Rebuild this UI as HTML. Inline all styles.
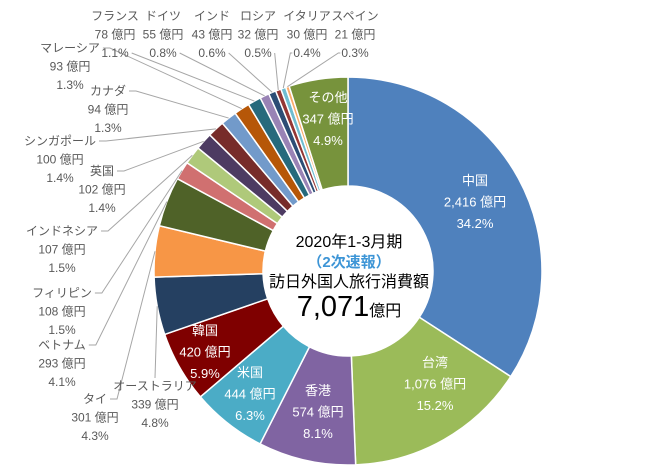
<!DOCTYPE html>
<html><head><meta charset="utf-8">
<style>
html,body{margin:0;padding:0;background:#fff;}
svg{display:block;font-family:"Liberation Sans","Noto Sans CJK JP",sans-serif;}
</style></head>
<body>
<svg id="chart" width="650" height="471" viewBox="0 0 650 471" xmlns="http://www.w3.org/2000/svg">
<g id="slices"></g>
<g id="leaders"></g>
<g id="labels"></g>
<g text-anchor="middle" fill="#000">
<text x="349" y="247" font-size="16">2020年1-3月期</text>
<text x="349" y="267" font-size="15" font-weight="bold" fill="#3d95d6">（2次速報）</text>
<text x="349" y="287" font-size="16">訪日外国人旅行消費額</text>
<text x="349" y="316"><tspan font-size="29">7,071</tspan><tspan font-size="16">億円</tspan></text>
</g>
</svg>
<script>
const categories=["中国","台湾","香港","米国","韓国","オーストラリア","タイ","ベトナム","フィリピン","インドネシア","英国","シンガポール","カナダ","マレーシア","フランス","ドイツ","インド","ロシア","イタリア","スペイン","その他"];
const values=[2416,1076,574,444,420,339,301,293,108,107,102,100,94,93,78,55,43,32,30,21,347];
const percents=["34.2%","15.2%","8.1%","6.3%","5.9%","4.8%","4.3%","4.1%","1.5%","1.5%","1.4%","1.4%","1.3%","1.3%","1.1%","0.8%","0.6%","0.5%","0.4%","0.3%","4.9%"];
const colors=["#4f81bd","#9bbb59","#8064a2","#4bacc6","#7f0000","#254061","#f79646","#4f6228","#d07070","#afc97a","#4d3b62","#772c2a","#729aca","#b65708","#276a7c","#9983b5","#2c4d75","#943634","#6fbdd1","#f9ab6b","#77933c"];
// label placement: [x, firstLineY, inside]
const labelPos=[[475,185,1],[435,367,1],[318,395,1],[250,377,1],[205,335,1],[155,390,0],[95,403,0],[62,349,0],[62,297,0],[62,235,0],[102,175,0],[60,145,0],[108,95,0],[70,52,0],[115,20,0],[163,20,0],[212,20,0],[258,20,0],[307,20,0],[355,20,0],[328,102,1]];
const cx=348,cy=271,R=194,r=85;
const NS="http://www.w3.org/2000/svg";
const total=values.reduce((a,b)=>a+b,0);
function ang(v){return v/total*Math.PI*2;}
function pt(a,rad){return [cx+rad*Math.sin(a),cy-rad*Math.cos(a)];}
const gS=document.getElementById('slices'),gL=document.getElementById('leaders'),gT=document.getElementById('labels');
let a0=0;
values.forEach((v,i)=>{
  const a1=a0+ang(v);
  const p1=pt(a0,R),p2=pt(a1,R),p3=pt(a1,r),p4=pt(a0,r);
  const lg=(a1-a0)>Math.PI?1:0;
  const p=document.createElementNS(NS,'path');
  p.setAttribute('d',`M${p1} A${R},${R} 0 ${lg} 1 ${p2} L${p3} A${r},${r} 0 ${lg} 0 ${p4}Z`);
  p.setAttribute('fill',colors[i]);p.setAttribute('stroke','#fff');p.setAttribute('stroke-width','1.5');
  
  
  gS.appendChild(p);
  const lp=labelPos[i];const inside=lp[2]===1;
  const t=document.createElementNS(NS,'text');
  t.setAttribute('text-anchor','middle');t.setAttribute('font-size',inside?'13':'12');
  t.setAttribute('fill',inside?'#fff':'#595959');
  
  
  const lines=[categories[i],values[i].toLocaleString('en-US')+' 億円',percents[i]];
  const lh=inside?21.5:18.5;
  const spans=lines.map((s,k)=>{const ts=document.createElementNS(NS,'tspan');ts.setAttribute('x',lp[0]);ts.setAttribute('y',lp[1]+k*lh);ts.textContent=s;t.appendChild(ts);return ts;});
  gT.appendChild(t);
  if(!inside){
    const mid=(a0+a1)/2;const e=pt(mid,R);
    let pts;
    if(lp[1]<40){
      const w=spans[2].getComputedTextLength();const y=lp[1]+2*lh-4;
      if(i>=18){const sx=lp[0]-w/2-3;pts=`${sx+2},${y} ${sx},${y} ${e[0]},${e[1]}`;}
      else{const sx=lp[0]+w/2+3;pts=`${sx},${y} ${e[0]},${e[1]}`;}
    } else if(i===5){pts=`${lp[0]},${lp[1]-12} ${e[0]},${e[1]}`;}
    else{const w=spans[0].getComputedTextLength();const sx=lp[0]+w/2+3,sy=lp[1]-4;pts=`${sx},${sy} ${sx+7},${sy} ${e[0]},${e[1]}`;}
    const l=document.createElementNS(NS,'polyline');
    l.setAttribute('points',pts);l.setAttribute('fill','none');l.setAttribute('stroke','#a6a6a6');l.setAttribute('stroke-width','1');
    
    
    gL.appendChild(l);
  }
  a0=a1;
});
</script>
</body></html>
